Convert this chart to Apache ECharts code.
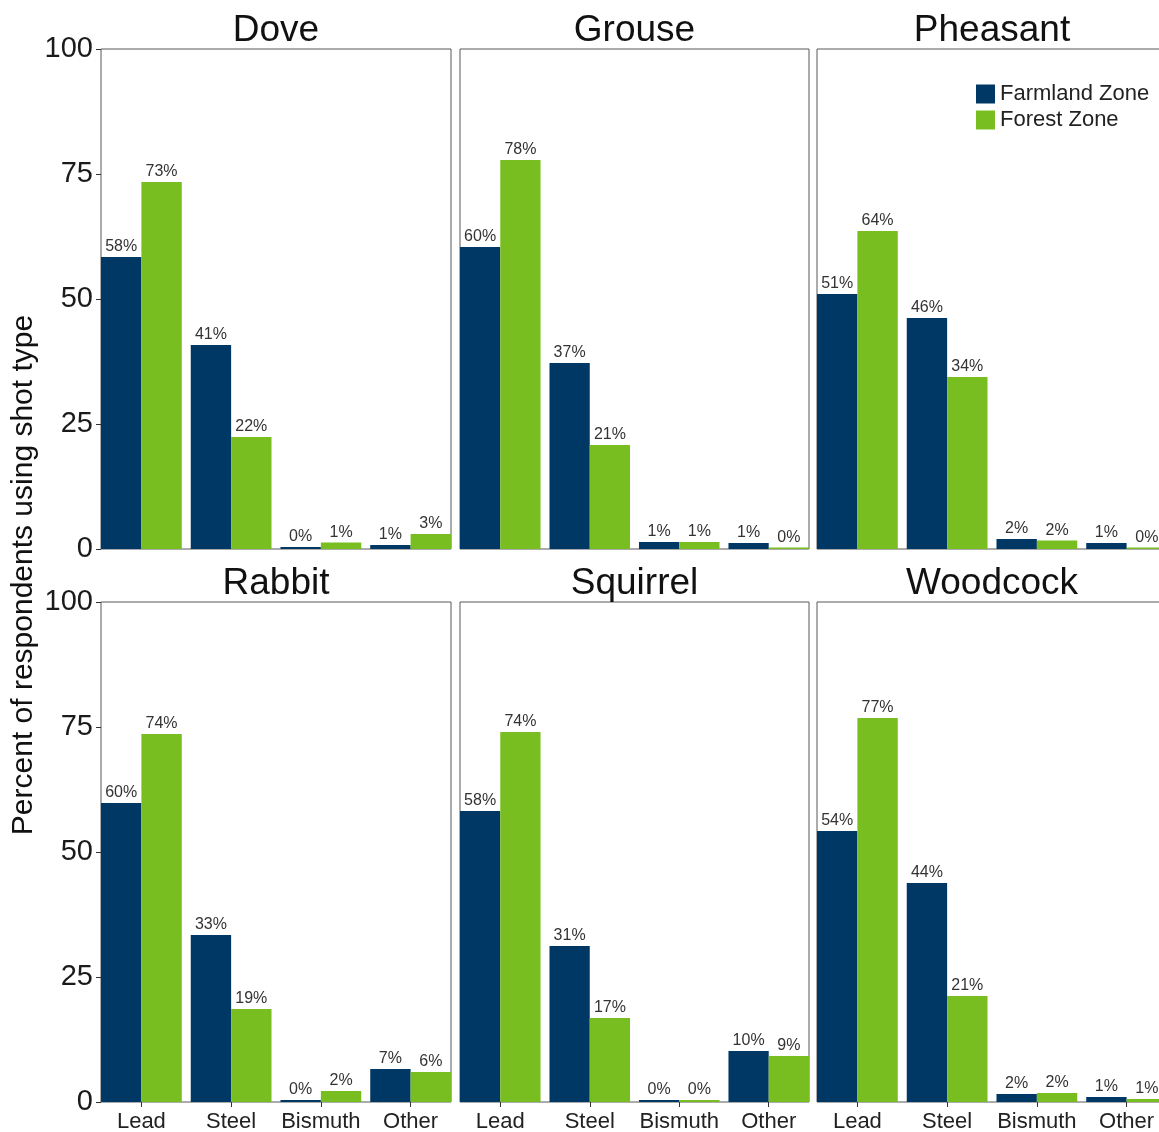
<!DOCTYPE html>
<html>
<head>
<meta charset="utf-8">
<script src="https://cdn.jsdelivr.net/npm/echarts@6/dist/echarts.min.js"></script>
<style>
html,body{margin:0;padding:0;background:#fff;}
#chart{width:1159px;height:1132px;}
</style>
</head>
<body>
<div id="chart"></div>
<script>
const categories = ['Lead', 'Steel', 'Bismuth', 'Other'];
const panelNames = ['Dove', 'Grouse', 'Pheasant', 'Rabbit', 'Squirrel', 'Woodcock'];
const seriesNames = ['Farmland Zone', 'Forest Zone'];
const yTicks = [0, 25, 50, 75, 100];

const doveFarmland = [58.4, 40.8, 0.4, 0.8];
const doveForest = [73.4, 22.4, 1.3, 3.0];
const grouseFarmland = [60.4, 37.2, 1.4, 1.2];
const grouseForest = [77.8, 20.8, 1.4, 0.3];
const pheasantFarmland = [51.0, 46.2, 2.0, 1.2];
const pheasantForest = [63.6, 34.4, 1.7, 0.3];
const rabbitFarmland = [59.8, 33.4, 0.4, 6.6];
const rabbitForest = [73.6, 18.6, 2.2, 6.0];
const squirrelFarmland = [58.2, 31.2, 0.4, 10.2];
const squirrelForest = [74.0, 16.8, 0.4, 9.2];
const woodcockFarmland = [54.2, 43.8, 1.6, 1.0];
const woodcockForest = [76.8, 21.2, 1.8, 0.6];

const farmlandByPanel = [doveFarmland, grouseFarmland, pheasantFarmland, rabbitFarmland, squirrelFarmland, woodcockFarmland];
const forestByPanel = [doveForest, grouseForest, pheasantForest, rabbitForest, squirrelForest, woodcockForest];

const colors = ['#003865', '#78BE21'];
const FONT = 'Liberation Sans, Arial, sans-serif';

const CW = 1159;
const colLeft = [101, 460, 817];
const colWidth = [350, 349, 350];
const rowTop = [49, 602];
const panelH = 500;

const grids = [], xAxes = [], yAxes = [], series = [], titles = [];
panelNames.forEach((name, i) => {
  const r = Math.floor(i / 3), c = i % 3;
  const L = colLeft[c], W = colWidth[c];
  const pitch = W / 3.9;
  const fi = 2 * i, bi = 2 * i + 1;
  const bl = L - 0.05 * pitch, bw = 4 * pitch;
  // frame grid: panel border + y axis
  grids.push({
    left: L, width: W, top: rowTop[r], height: panelH,
    outerBoundsMode: 'none', containLabel: false,
    show: true, borderColor: '#595959', borderWidth: 1, backgroundColor: 'transparent'
  });
  // bar grid: ggplot-like expansion (0.55..4.45)
  grids.push({
    left: bl, width: bw, top: rowTop[r], height: panelH,
    outerBoundsMode: 'none', containLabel: false,
    show: false
  });
  xAxes.push({
    type: 'value', gridIndex: fi, min: 0, max: 1, show: false
  });
  xAxes.push({
    type: 'category', gridIndex: bi, data: categories,
    axisLine: {show: false},
    axisTick: {show: r === 1, alignWithLabel: true, length: 5, lineStyle: {color: '#333'}},
    axisLabel: {show: r === 1, fontSize: 22, color: '#222', fontFamily: FONT, margin: 9, interval: 0},
    splitLine: {show: false}
  });
  yAxes.push({
    type: 'value', gridIndex: fi, min: 0, max: 100, interval: 25,
    axisLine: {show: false},
    axisTick: {show: c === 0, length: 5, lineStyle: {color: '#333'}},
    axisLabel: {show: c === 0, fontSize: 29, color: '#1a1a1a', fontFamily: FONT, margin: 8},
    splitLine: {show: false}
  });
  yAxes.push({
    type: 'value', gridIndex: bi, min: 0, max: 100, interval: 25, show: false,
    splitLine: {show: false}
  });
  titles.push({
    text: name, left: L + W / 2, top: rowTop[r] - 37, textAlign: 'center', padding: 0,
    textStyle: {fontSize: 37, fontWeight: 'normal', color: '#111', fontFamily: FONT}
  });
  [farmlandByPanel[i], forestByPanel[i]].forEach((vals, k) => {
    series.push({
      type: 'bar', name: seriesNames[k], xAxisIndex: bi, yAxisIndex: bi,
      data: vals, barGap: 0, barCategoryGap: '10%',
      itemStyle: {color: colors[k]},
      label: {
        show: true, position: 'top', distance: 2, fontSize: 16, color: '#333', fontFamily: FONT,
        formatter: p => Math.round(p.value) + '%'
      }
    });
  });
});

const chart = echarts.init(document.getElementById('chart'), null, {renderer: 'canvas'});
chart.setOption({
  animation: false,
  backgroundColor: '#fff',
  title: titles,
  grid: grids,
  xAxis: xAxes,
  yAxis: yAxes,
  series: series,
  legend: {
    data: seriesNames, orient: 'vertical', left: 971, top: 78,
    icon: 'rect', itemWidth: 19, itemHeight: 19, itemGap: 4,
    textStyle: {fontSize: 22, color: '#222', fontFamily: FONT}
  },
  graphic: [{
    type: 'text', x: 24, y: 575, rotation: Math.PI / 2,
    style: {
      text: 'Percent of respondents using shot type', fontSize: 30, fontFamily: FONT,
      fill: '#111', textAlign: 'center', textVerticalAlign: 'middle'
    }
  }]
});
</script>
</body>
</html>
